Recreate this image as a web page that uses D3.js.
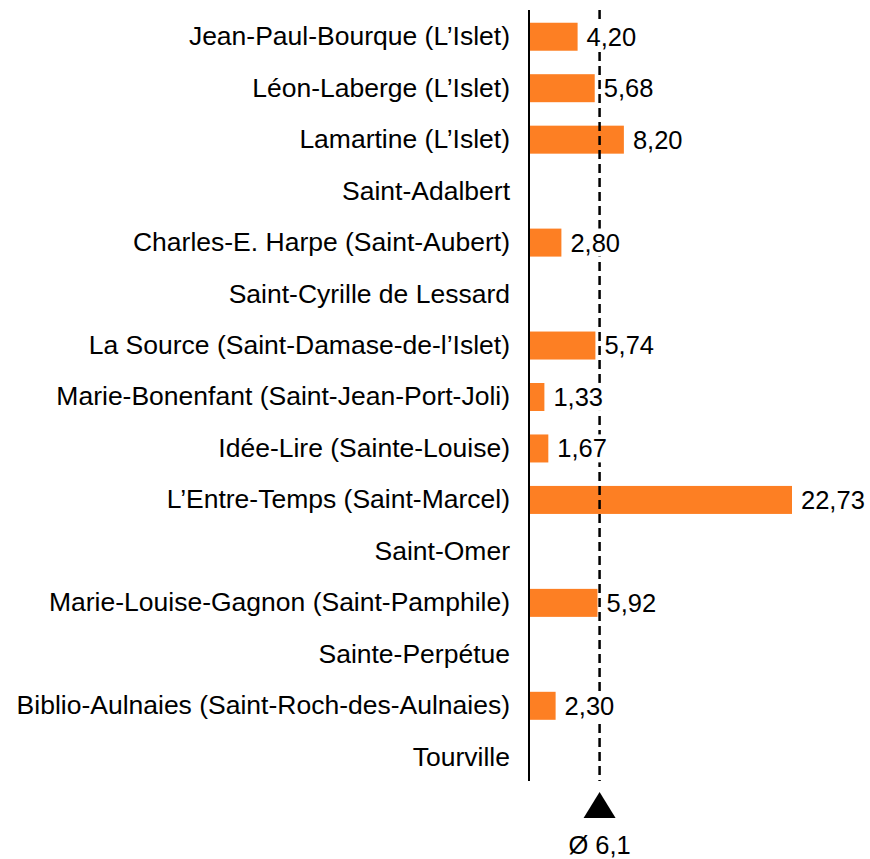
<!DOCTYPE html>
<html>
<head>
<meta charset="utf-8">
<script src="https://cdn.jsdelivr.net/npm/d3@7"></script>
<style>
body { margin: 0; background: #fff; }
text { font-family: "Liberation Sans", Arial, sans-serif; fill: #000; }
</style>
</head>
<body>
<div id="chart"></div>
<script>
var categories = [
  "Jean-Paul-Bourque (L\u2019Islet)",
  "L\u00e9on-Laberge (L\u2019Islet)",
  "Lamartine (L\u2019Islet)",
  "Saint-Adalbert",
  "Charles-E. Harpe (Saint-Aubert)",
  "Saint-Cyrille de Lessard",
  "La Source (Saint-Damase-de-l\u2019Islet)",
  "Marie-Bonenfant (Saint-Jean-Port-Joli)",
  "Id\u00e9e-Lire (Sainte-Louise)",
  "L\u2019Entre-Temps (Saint-Marcel)",
  "Saint-Omer",
  "Marie-Louise-Gagnon (Saint-Pamphile)",
  "Sainte-Perp\u00e9tue",
  "Biblio-Aulnaies (Saint-Roch-des-Aulnaies)",
  "Tourville"
];
var values = [4.20, 5.68, 8.20, null, 2.80, null, 5.74, 1.33, 1.67, 22.73, null, 5.92, null, 2.30, null];
var average = 6.1;
var averageLabel = "\u00d8 6,1";

var width = 870, height = 859;
var fmt = function(v){ return v.toFixed(2).replace(".", ","); };

var svg = d3.select("#chart").append("svg")
  .attr("width", width)
  .attr("height", height);

var x = d3.scaleLinear()
  .domain([0, 22.73])
  .range([529, 792]);

var y = d3.scaleBand()
  .domain(categories)
  .range([11, 783])
  .paddingInner(0.456)
  .paddingOuter(0.228);

var data = categories.map(function(c, i){ return {name: c, value: values[i]}; });
var withValue = data.filter(function(d){ return d.value != null; });

// bars
svg.append("g")
  .selectAll("rect")
  .data(withValue)
  .enter()
  .append("rect")
  .attr("x", x(0))
  .attr("y", function(d){ return y(d.name); })
  .attr("width", function(d){ return x(d.value) - x(0); })
  .attr("height", y.bandwidth())
  .attr("fill", "#fd7f23");

// average line
svg.append("line")
  .attr("x1", x(average)).attr("x2", x(average))
  .attr("y1", 10).attr("y2", 781)
  .attr("stroke", "#000")
  .attr("stroke-width", 2.5)
  .attr("stroke-dasharray", "9,5");

// value labels (white box behind, hides the dashed line)
var vl = svg.append("g")
  .selectAll("g")
  .data(withValue)
  .enter()
  .append("g");

vl.append("rect").attr("fill", "#fff");
vl.append("text")
  .attr("x", function(d){ return x(d.value) + 9; })
  .attr("y", function(d){ return y(d.name) + y.bandwidth()/2; })
  .attr("dy", "0.35em")
  .style("font-size", "25.5px")
  .text(function(d){ return fmt(d.value); });

vl.each(function(){
  var g = d3.select(this);
  var b = g.select("text").node().getBBox();
  g.select("rect")
    .attr("x", b.x - 2).attr("y", b.y)
    .attr("width", b.width + 4).attr("height", b.height);
});

// category axis
var axis = svg.append("g")
  .attr("transform", "translate(" + x(0) + ",0)")
  .call(d3.axisLeft(y).tickSize(0).tickPadding(19));
axis.select(".domain").remove();
axis.selectAll("text")
  .style("font-size", "26.5px")
  .style("font-family", "Liberation Sans, Arial, sans-serif");

svg.append("line")
  .attr("x1", x(0)).attr("x2", x(0))
  .attr("y1", 10).attr("y2", 781)
  .attr("stroke", "#000")
  .attr("stroke-width", 2);

// average marker
var ax = x(average);
svg.append("path")
  .attr("d", "M" + ax + ",792L" + (ax + 16) + ",818L" + (ax - 16) + ",818Z")
  .attr("fill", "#000");

svg.append("text")
  .attr("x", ax)
  .attr("y", 845)
  .attr("dy", "0.35em")
  .attr("text-anchor", "middle")
  .style("font-size", "25.5px")
  .text(averageLabel);
</script>
</body>
</html>
